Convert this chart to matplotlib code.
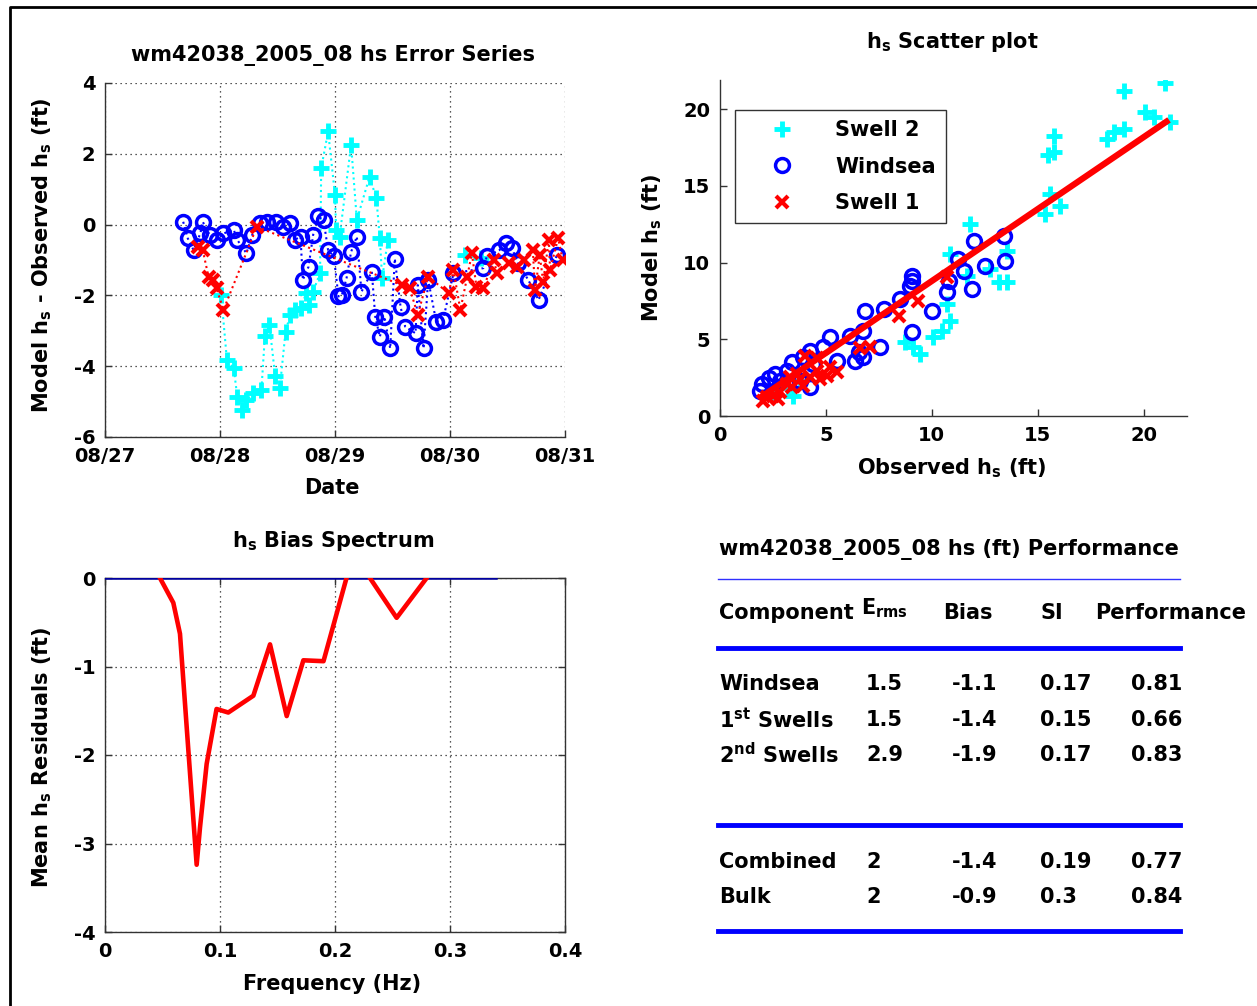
import numpy as np
import matplotlib
matplotlib.use("Agg")
import matplotlib.pyplot as plt
from matplotlib.lines import Line2D

plt.rcParams['font.family'] = ['DejaVu Sans']
plt.rcParams['font.weight'] = 'bold'
plt.rcParams['mathtext.fontset'] = 'custom'
plt.rcParams['mathtext.rm'] = 'DejaVu Sans:bold'
plt.rcParams['mathtext.bf'] = 'DejaVu Sans:bold'
plt.rcParams['mathtext.it'] = 'DejaVu Sans:bold'
plt.rcParams['mathtext.default'] = 'rm'
plt.rcParams['axes.unicode_minus'] = False

# ---------------- data ----------------
# Error series (day of Aug 2005, model - observed hs in ft)
ws_t = [27.68, 27.72, 27.77, 27.83, 27.85, 27.91, 27.97, 28.03, 28.12, 28.15, 28.23, 28.28,
        28.35, 28.41, 28.49, 28.55, 28.61, 28.65, 28.70, 28.72, 28.77, 28.81, 28.85, 28.90,
        28.94, 28.99, 29.03, 29.06, 29.10, 29.14, 29.19, 29.23, 29.32, 29.35, 29.39, 29.43,
        29.48, 29.52, 29.57, 29.61, 29.70, 29.72, 29.77, 29.81, 29.88, 29.94, 30.03, 30.29,
        30.32, 30.43, 30.49, 30.54, 30.59, 30.68, 30.77, 30.93]
ws_e = [0.08, -0.39, -0.72, -0.24, 0.08, -0.29, -0.43, -0.25, -0.15, -0.43, -0.81, -0.29,
        0.04, 0.08, 0.08, -0.06, 0.04, -0.43, -0.34, -1.56, -1.19, -0.29, 0.23, 0.13,
        -0.72, -0.90, -2.03, -1.99, -1.52, -0.77, -0.34, -1.90, -1.33, -2.60, -3.17, -2.60,
        -3.50, -0.96, -2.32, -2.88, -3.07, -1.71, -3.50, -1.56, -2.74, -2.69, -1.38, -1.23,
        -0.90, -0.72, -0.53, -0.67, -1.09, -1.56, -2.13, -0.86]

sw2_t = [28.01, 28.06, 28.12, 28.15, 28.19, 28.23, 28.29, 28.36, 28.39, 28.43, 28.48, 28.52,
         28.57, 28.61, 28.65, 28.70, 28.75, 28.77, 28.81, 28.87, 28.88, 28.94, 29.00, 29.01,
         29.04, 29.14, 29.19, 29.30, 29.36, 29.39, 29.41, 29.46, 29.50, 30.13, 30.27]
sw2_e = [-1.99, -3.82, -4.06, -4.86, -5.24, -4.95, -4.77, -4.67, -3.16, -2.84, -4.29, -4.62,
         -3.02, -2.55, -2.41, -2.36, -1.94, -2.27, -1.89, -1.37, 1.59, 2.63, 0.84, -0.15,
         -0.34, 2.25, 0.13, 1.35, 0.74, -0.39, -1.52, -0.43, np.nan, -0.86, -0.95]

sw1_t = [27.81, 27.85, 27.90, 27.94, 27.97, 28.03, 28.32, 29.58, 29.65, 29.72, 29.81, 29.99,
         30.03, 30.09, 30.15, 30.19, 30.23, 30.29, 30.38, 30.41, 30.51, 30.58, 30.64, 30.72,
         30.74, 30.78, 30.81, 30.86, 30.87, 30.94, 30.98]
sw1_e = [-0.62, -0.72, -1.47, -1.56, -1.80, -2.41, -0.06, -1.71, -1.80, -2.55, -1.47, -1.94,
         -1.28, -2.41, -1.47, -0.81, -1.75, -1.80, -1.00, -1.38, -1.09, -1.19, -1.00, -0.72,
         -1.85, -0.86, -1.61, -0.43, -1.28, -0.39, -1.00]

date_ticks = [27, 28, 29, 30, 31]
date_labels = ['08/27', '08/28', '08/29', '08/30', '08/31']

# Scatter (observed hs, model hs in ft)
sc2_obs = [21.02, 19.06, 20.08, 20.47, 21.26, 19.06, 18.58, 18.27, 15.75, 15.75, 15.51, 15.59,
           15.35, 16.06, 11.81, 10.87, 13.54, 12.76, 13.15, 13.54, 11.65, 10.71, 10.87, 10.47,
           10.08, 8.74, 9.13, 9.45, 3.46, 2.5, 3.2, 3.8]
sc2_mod = [21.70, 21.17, 19.80, 19.48, 19.15, 18.72, 18.50, 18.06, 18.28, 17.19, 16.98, 14.48,
           13.17, 13.72, 12.52, 10.56, 10.78, 9.59, 8.72, 8.72, 9.15, 7.30, 6.22, 5.56,
           5.13, 4.80, 4.48, 4.04, 1.33, 1.5, 1.8, 2.3]

scw_obs = [11.97, 13.39, 13.46, 11.26, 11.50, 12.52, 11.89, 10.71, 10.79, 10.00, 9.06, 9.06,
           8.98, 8.50, 7.72, 6.85, 9.06, 7.56, 6.77, 6.14, 6.54, 6.38, 6.77, 5.20,
           4.88, 4.25, 3.94, 3.39, 2.60, 1.97, 1.89, 4.25, 4.41, 5.51, 3.78, 2.83, 3.15, 2.3]
scw_mod = [11.43, 11.76, 10.13, 10.24, 9.48, 9.80, 8.28, 8.06, 8.82, 6.87, 9.15, 8.82,
           8.50, 7.63, 6.98, 6.87, 5.46, 4.48, 5.57, 5.24, 4.15, 3.61, 3.82, 5.13,
           4.48, 4.26, 3.82, 3.50, 2.74, 2.09, 1.65, 1.87, 3.39, 3.61, 2.30, 2.30, 2.96, 2.5]

sc1_obs = [4.02, 7.09, 8.43, 9.37, 10.71, 5.20, 5.51, 5.04, 4.72, 3.62, 2.20, 2.52, 2.83, 3.15,
           3.39, 3.94, 4.25, 2.05, 2.76, 4.57, 3.78, 3.31, 6.6, 4.6]
sc1_mod = [3.93, 4.48, 6.54, 7.52, 9.04, 3.17, 2.85, 2.63, 2.41, 2.74, 1.22, 1.33, 1.54, 2.09,
           1.87, 1.98, 2.52, 1.00, 1.11, 2.96, 2.41, 2.52, 4.4, 3.8]

fit_obs = [1.9, 21.2]
fit_mod = [1.2, 19.3]

# Bias spectrum
bias_f = [0.040, 0.0478, 0.0594, 0.0652, 0.0725, 0.0797, 0.0826, 0.0884, 0.097, 0.1072, 0.129,
          0.1435, 0.158, 0.1725, 0.190, 0.210, 0.220, 0.2304, 0.2536, 0.2797, 0.29]
bias_r = [0.2, 0.0, -0.28, -0.63, -1.95, -3.24, -2.82, -2.10, -1.48, -1.52, -1.33,
          -0.75, -1.56, -0.93, -0.94, 0.0, 0.3, 0.0, -0.45, 0.0, 0.2]
zero_f = [0.0, 0.05, 0.1, 0.15, 0.2, 0.25, 0.3, 0.34]
zero_r = [0, 0, 0, 0, 0, 0, 0, 0]

# Performance table
comp_names = ['Windsea', '1$^{st}$ Swells', '2$^{nd}$ Swells']
comp_erms = ['1.5', '1.5', '2.9']
comp_bias = ['-1.1', '-1.4', '-1.9']
comp_si = ['0.17', '0.15', '0.17']
comp_perf = ['0.81', '0.66', '0.83']
tot_names = ['Combined', 'Bulk']
tot_erms = ['2', '2']
tot_bias = ['-1.4', '-0.9']
tot_si = ['0.19', '0.3']
tot_perf = ['0.77', '0.84']

# ---------------- figure ----------------
W, H = 1257, 1006
fig = plt.figure(figsize=(W / 100, H / 100), dpi=100)
fig.patch.set_facecolor('white')


def ax_rect(l, t, r, b):
    return [l / W, 1 - b / H, (r - l) / W, (b - t) / H]


def ftext(x, y, s, **kw):
    kw.setdefault('ha', 'center')
    kw.setdefault('va', 'center')
    kw.setdefault('fontsize', 15)
    kw.setdefault('fontweight', 'bold')
    return fig.text(x / W, 1 - y / H, s, **kw)


FS = 14     # tick labels
LFS = 15    # labels, titles, table
CYAN = '#00ffff'
BLUE = '#0000ff'
RED = '#ff0000'
SPINE = '#333333'


def style_axes(ax, box=False, grid=True):
    for s in ['left', 'bottom', 'top', 'right']:
        ax.spines[s].set_color(SPINE)
        ax.spines[s].set_linewidth(1.0)
    if not box:
        ax.spines['top'].set_visible(False)
        ax.spines['right'].set_visible(False)
    ax.tick_params(direction='in', length=5, width=1, color=SPINE, labelsize=FS, pad=7,
                   right=box, top=box)
    for lab in ax.get_xticklabels() + ax.get_yticklabels():
        lab.set_fontweight('bold')
    if grid:
        ax.grid(True, linestyle=(0, (1, 3)), color='#222222', linewidth=0.9)
        ax.set_axisbelow(True)


# ---- top-left: error series ----
ax1 = fig.add_axes(ax_rect(105, 83, 565, 437))
ax1.plot(sw2_t, sw2_e, linestyle=':', color=CYAN, lw=1.5, marker='+', ms=12, mew=3.5)
ax1.plot(ws_t, ws_e, linestyle=':', color=BLUE, lw=1.5, marker='o', ms=10, mew=2.5,
         mfc='none')
ax1.plot(sw1_t, sw1_e, linestyle=':', color=RED, lw=1.5, marker='x', ms=9, mew=3)
ax1.set_xlim(27, 31)
ax1.set_ylim(-6, 4)
ax1.set_xticks(date_ticks)
ax1.set_xticklabels(date_labels)
ax1.set_yticks([-6, -4, -2, 0, 2, 4])
style_axes(ax1, box=False, grid=True)

ftext(333, 55, 'wm42038_2005_08 hs Error Series')
ftext(332, 488, 'Date')
ftext(42, 255, 'Model h$_s$ - Observed h$_s$ (ft)', rotation=90)

# ---- top-right: scatter ----
ax2 = fig.add_axes(ax_rect(720, 80, 1187, 416))
h2, = ax2.plot(sc2_obs, sc2_mod, linestyle='none', color=CYAN, marker='+', ms=12, mew=3.5)
hw, = ax2.plot(scw_obs, scw_mod, linestyle='none', color=BLUE, marker='o', ms=10, mew=2.5,
               mfc='none')
h1, = ax2.plot(sc1_obs, sc1_mod, linestyle='none', color=RED, marker='x', ms=9, mew=3)
ax2.plot(fit_obs, fit_mod, color=RED, lw=4.5, solid_capstyle='butt')
ax2.set_xlim(0, 22.05)
ax2.set_ylim(0, 21.9)
ax2.set_xticks([0, 5, 10, 15, 20])
ax2.set_yticks([0, 5, 10, 15, 20])
style_axes(ax2, box=False, grid=False)
leg = ax2.legend([h2, hw, h1], ['Swell 2', 'Windsea', 'Swell 1'], loc='upper left',
                 bbox_to_anchor=(0.032, 0.911), borderaxespad=0, fancybox=False,
                 edgecolor='black', handlelength=3.5, handletextpad=0.8,
                 labelspacing=0.78, borderpad=0.5, prop={'weight': 'bold', 'size': LFS})
leg.get_frame().set_linewidth(1.0)

ftext(952, 42, 'h$_s$ Scatter plot')
ftext(952, 468, 'Observed h$_s$ (ft)')
ftext(652, 248, 'Model h$_s$ (ft)', rotation=90)

# ---- bottom-left: bias spectrum ----
ax3 = fig.add_axes(ax_rect(105, 578, 565, 932))
ax3.plot(zero_f, zero_r, color='#0000a0', lw=1.8, zorder=3)
ax3.plot(bias_f, bias_r, color=RED, lw=3.3, zorder=4)
ax3.set_xlim(0, 0.4)
ax3.set_ylim(-4, 0)
ax3.set_xticks([0, 0.1, 0.2, 0.3, 0.4])
ax3.set_xticklabels(['0', '0.1', '0.2', '0.3', '0.4'])
ax3.set_yticks([-4, -3, -2, -1, 0])
style_axes(ax3, box=True, grid=True)

ftext(333, 541, 'h$_s$ Bias Spectrum')
ftext(332, 984, 'Frequency (Hz)')
ftext(42, 757, 'Mean h$_s$ Residuals (ft)', rotation=90)

# ---- bottom-right: performance table ----
ftext(719, 550, 'wm42038_2005_08 hs (ft) Performance', ha='left')
ftext(719, 613, 'Component', ha='left')
ftext(861, 608, 'E$_{rms}$', ha='left')
ftext(943, 613, 'Bias', ha='left')
ftext(1040, 613, 'SI', ha='left')
ftext(1095, 613, 'Performance', ha='left')

row_y = [684, 720, 755]
for i, y in enumerate(row_y):
    ftext(719, y, comp_names[i], ha='left')
    ftext(866, y, comp_erms[i], ha='left')
    ftext(952, y, comp_bias[i], ha='left')
    ftext(1040, y, comp_si[i], ha='left')
    ftext(1131, y, comp_perf[i], ha='left')
tot_y = [862, 897]
for i, y in enumerate(tot_y):
    ftext(719, y, tot_names[i], ha='left')
    ftext(866, y, tot_erms[i], ha='left')
    ftext(952, y, tot_bias[i], ha='left')
    ftext(1040, y, tot_si[i], ha='left')
    ftext(1131, y, tot_perf[i], ha='left')


def hline(y, lw, color):
    fig.add_artist(Line2D([718 / W, 1180 / W], [1 - y / H, 1 - y / H], lw=lw, color=color))


hline(579, 1.0, '#3030ff')
hline(648, 3.5, BLUE)
hline(825, 3.5, BLUE)
hline(931, 3.5, BLUE)

# figure border (top and left visible)
fig.add_artist(Line2D([10 / W, 10 / W, 1.01], [-0.01, 1 - 7 / H, 1 - 7 / H], lw=2,
                      color='black'))

fig.savefig('out.png', dpi=100, facecolor='white')
